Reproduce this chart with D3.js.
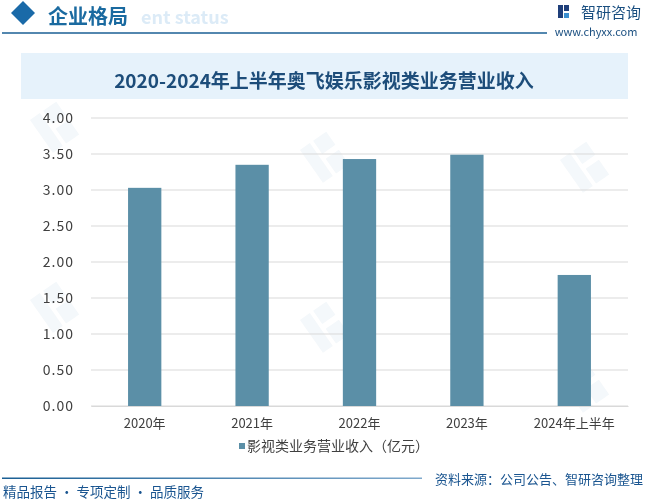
<!DOCTYPE html>
<html>
<head>
<meta charset="utf-8">
<script src="https://cdn.jsdelivr.net/npm/d3@7"></script>
<style>
  body { margin: 0; background: #fff; }
  svg { display: block; }
  text { font-family: "Noto Sans CJK SC", "Noto Sans", sans-serif; }
</style>
</head>
<body>
<svg id="chart" width="648" height="501"></svg>
<script>
// data
const years = ['2020年', '2021年', '2022年', '2023年', '2024年上半年'];
const revenue = [3.03, 3.35, 3.43, 3.49, 1.82]; // 影视类业务营业收入（亿元）
const yTicks = [0, 0.5, 1, 1.5, 2, 2.5, 3, 3.5, 4];

const svg = d3.select('#chart');
const blue = '#1a5f94';

// faint logo watermarks (shapes only)
const wm = svg.append('g').attr('fill', '#1a6aa0').attr('opacity', 0.05);
[[30, 120], [300, 150], [30, 300], [300, 320], [560, 160], [560, 380]].forEach(([x, y]) => {
  const g = wm.append('g').attr('transform', `translate(${x},${y}) rotate(-35)`);
  g.append('rect').attr('x', 0).attr('y', 0).attr('width', 12).attr('height', 40);
  g.append('rect').attr('x', 16).attr('y', 0).attr('width', 16).attr('height', 16);
  g.append('rect').attr('x', 16).attr('y', 22).attr('width', 16).attr('height', 18);
});

// header
svg.append('text')
  .attr('x', 141).attr('y', 24)
  .attr('font-family', 'Arial, Liberation Sans, sans-serif')
  .attr('font-weight', 'bold')
  .attr('font-size', 18)
  .attr('fill', '#dcebf7')
  .text('ent status');

svg.append('path')
  .attr('d', 'M23,1 L35,13 L23,25 L11,13 Z')
  .attr('fill', '#1a6aa8');

svg.append('text')
  .attr('x', 48).attr('y', 24)
  .attr('font-size', 20)
  .attr('font-weight', 'bold')
  .attr('fill', '#1a6aa0')
  .text('企业格局');

svg.append('line')
  .attr('x1', 2).attr('x2', 547)
  .attr('y1', 33).attr('y2', 33)
  .attr('stroke', blue).attr('stroke-width', 1.5);

// logo
const logo = svg.append('g');
logo.append('rect').attr('x', 558).attr('y', 5).attr('width', 5).attr('height', 13).attr('fill', '#1f3f7a');
logo.append('rect').attr('x', 564).attr('y', 5).attr('width', 5).attr('height', 6).attr('fill', '#1f3f7a');
logo.append('rect').attr('x', 564).attr('y', 13).attr('width', 5).attr('height', 5).attr('fill', '#3a8fd0');
logo.append('text')
  .attr('x', 581).attr('y', 18)
  .attr('font-size', 15)
  .attr('fill', '#1a4f80')
  .text('智研咨询');
logo.append('text')
  .attr('x', 596).attr('y', 36)
  .attr('text-anchor', 'middle')
  .attr('font-family', 'Liberation Serif, serif')
  .attr('font-size', 11)
  .attr('fill', '#1a4f80')
  .text('www.chyxx.com');

// title box
svg.append('rect')
  .attr('x', 21).attr('y', 53)
  .attr('width', 607).attr('height', 46)
  .attr('fill', '#e6f2fb');

svg.append('text')
  .attr('x', 324).attr('y', 88)
  .attr('text-anchor', 'middle')
  .attr('font-size', 19)
  .attr('font-weight', 'bold')
  .attr('fill', '#1d4d7a')
  .text('2020-2024年上半年奥飞娱乐影视类业务营业收入');

// scales
const x = d3.scaleBand().domain(years).range([91, 628]).paddingInner(0.69).paddingOuter(0.345);
const y = d3.scaleLinear().domain([0, 4]).range([406, 118]);

// grid
svg.append('g')
  .selectAll('line')
  .data(yTicks)
  .join('line')
  .attr('x1', 91).attr('x2', 628)
  .attr('y1', d => y(d)).attr('y2', d => y(d))
  .attr('stroke', '#d9d9d9').attr('stroke-width', 1);

// y axis labels
const yAxis = svg.append('g')
  .attr('transform', 'translate(74,0)')
  .call(d3.axisLeft(y).tickValues(yTicks).tickFormat(d3.format('.2f')).tickSize(0).tickPadding(0));
yAxis.select('.domain').remove();
yAxis.selectAll('text')
  .attr('font-family', 'Liberation Serif, DejaVu Serif, serif')
  .attr('font-size', 14)
  .attr('letter-spacing', 1)
  .attr('fill', '#404040');

// bars
svg.append('g')
  .selectAll('rect')
  .data(years)
  .join('rect')
  .attr('x', d => x(d))
  .attr('width', x.bandwidth())
  .attr('y', (d, i) => y(revenue[i]))
  .attr('height', (d, i) => y(0) - y(revenue[i]))
  .attr('fill', '#5b8fa7');

// x axis labels
const xAxis = svg.append('g')
  .attr('transform', 'translate(0,406)')
  .call(d3.axisBottom(x).tickSize(0).tickPadding(13));
xAxis.select('.domain')
  .attr('stroke', '#d9d9d9');
xAxis.selectAll('text')
  .attr('font-family', 'Noto Sans CJK SC, sans-serif')
  .attr('font-size', 13)
  .attr('fill', '#404040');

// legend
svg.append('rect')
  .attr('x', 239).attr('y', 443)
  .attr('width', 6).attr('height', 6)
  .attr('fill', '#5b8fa7');
svg.append('text')
  .attr('x', 247).attr('y', 451)
  .attr('font-size', 14)
  .attr('fill', '#404040')
  .text('影视类业务营业收入（亿元）');

// footer
const grad = svg.append('defs').append('linearGradient').attr('id', 'fg');
grad.append('stop').attr('offset', '0%').attr('stop-color', '#1a5f94');
grad.append('stop').attr('offset', '100%').attr('stop-color', '#7fa9cc');
svg.append('rect')
  .attr('x', 2).attr('y', 477.5)
  .attr('width', 420).attr('height', 1.5)
  .attr('fill', 'url(#fg)');

svg.append('text')
  .attr('x', 435).attr('y', 484)
  .attr('font-size', 13)
  .attr('fill', '#1a5590')
  .text('资料来源：公司公告、智研咨询整理');

svg.append('text')
  .attr('x', 3).attr('y', 497)
  .attr('font-size', 13.5)
  .attr('fill', '#1a5590')
  .text('精品报告 · 专项定制 · 品质服务');
</script>
</body>
</html>
